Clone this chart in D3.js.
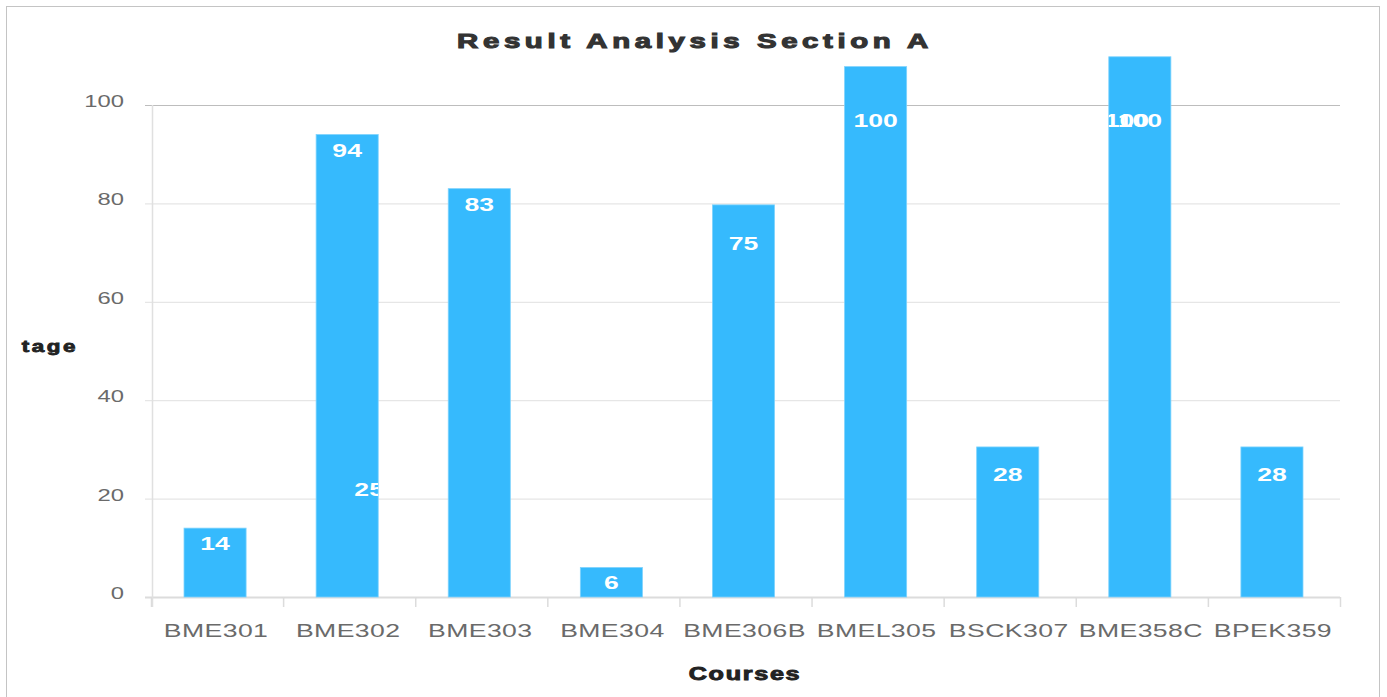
<!DOCTYPE html>
<html>
<head>
<meta charset="utf-8">
<script src="https://cdn.jsdelivr.net/npm/d3@7"></script>
<style>
  body { margin: 0; background: #fff; }
  svg { display: block; font-family: "Liberation Sans", Arial, sans-serif; }
</style>
</head>
<body>
<svg width="1387" height="697"></svg>
<script>
const courses = ['BME301','BME302','BME303','BME304','BME306B','BMEL305','BSCK307','BME358C','BPEK359']
const barValues = [14, 94, 83, 6, 79.7, 107.8, 30.5, 109.8, 30.5]
const labelValues = [14, 94, 83, 6, 75, 100, 28, 100, 28]
const extraLabels = [{course: 'BME302', value: 25}, {course: 'BME358C', value: 100}]
const yTicks = [0, 20, 40, 60, 80, 100]

const svg = d3.select('svg')
const stretch = 1.4   // the reference is stretched sideways

const x = d3.scaleBand().domain(courses).range([151, 1340]).padding(0)
const y = d3.scaleLinear().domain([0, 100]).range([597, 105])
const bw = x.step() * 0.47
const barX = c => x(c) + (x.step() - bw) / 2 - 2

svg.append('clipPath').attr('id', 'clip')
  .append('rect').attr('x', 20).attr('y', 0).attr('width', 1367).attr('height', 697)

// outer frame
svg.append('rect')
  .attr('x', 6.5).attr('y', 6.5).attr('width', 1373).attr('height', 710)
  .attr('fill', 'none').attr('stroke', '#c4c4c4')

function label(g, tx, ty, txt, opts) {
  return g.append('text')
    .attr('transform', `translate(${tx},${ty}) scale(${stretch},1)`)
    .attr('text-anchor', opts.anchor || 'middle')
    .attr('font-size', opts.size)
    .attr('font-weight', opts.weight || 'normal')
    .attr('letter-spacing', opts.spacing || 0)
    .attr('fill', opts.fill)
    .attr('stroke', opts.heavy ? opts.fill : 'none')
    .attr('stroke-width', opts.heavy || 0)
    .text(txt)
}

// title
label(svg, 695, 48, 'Result Analysis Section A', {size: 21, weight: 'bold', spacing: 3.3, fill: '#333', heavy: 1.1})

// grid
const $grid = svg.append('g')
$grid.selectAll('line').data(yTicks)
  .enter().append('line')
  .attr('x1', 145).attr('x2', 1340)
  .attr('y1', d => y(d) + 0.5).attr('y2', d => y(d) + 0.5)
  .attr('stroke', d => d == 100 ? '#bdbdbd' : d == 0 ? '#dcdcdc' : '#e6e6e6')
  .attr('stroke-width', d => d == 0 ? 2 : 1.2)

// y axis line
svg.append('line')
  .attr('x1', 152.5).attr('x2', 152.5).attr('y1', y(100)).attr('y2', 607)
  .attr('stroke', '#e0e0e0').attr('stroke-width', 1.5)

// x category ticks
svg.append('g').selectAll('line').data(courses.concat(['end']))
  .enter().append('line')
  .attr('x1', (d, i) => 151.5 + i * x.step()).attr('x2', (d, i) => 151.5 + i * x.step())
  .attr('y1', y(0)).attr('y2', 607)
  .attr('stroke', '#dcdcdc').attr('stroke-width', 1.5)

// y tick labels
const $ylab = svg.append('g')
yTicks.forEach(t => label($ylab, 124, y(t) + 2, t, {size: 17, anchor: 'end', fill: '#6a6a6a'}))

// x tick labels
const $xlab = svg.append('g')
courses.forEach(c => label($xlab, barX(c) + bw / 2 + 1, 637, c, {size: 19, fill: '#6a6a6a', spacing: 0.3}))

// axis titles
label(svg, 745, 680, 'Courses', {size: 18, weight: 'bold', spacing: 1.2, fill: '#222', heavy: 0.9})
svg.append('g').attr('clip-path', 'url(#clip)')
  .call(g => label(g, 78, 352, 'Percentage', {size: 16, weight: 'bold', spacing: 1.8, anchor: 'end', fill: '#222', heavy: 0.8}))

// bars
const $bars = svg.append('g')
$bars.selectAll('rect').data(courses)
  .enter().append('rect')
  .attr('x', c => barX(c))
  .attr('y', (c, i) => y(barValues[i]))
  .attr('width', bw)
  .attr('height', (c, i) => y(0) - y(barValues[i]))
  .attr('fill', '#36bafd')
  .attr('stroke', '#7fd3fd').attr('stroke-width', 0.8)

// value labels
const $vals = svg.append('g')
courses.forEach((c, i) =>
  label($vals, barX(c) + bw / 2, y(labelValues[i]) + 22, labelValues[i], {size: 19, weight: 'bold', fill: '#fff'}))

// stray labels left over in the reference, kept inside their bars
extraLabels.forEach((d, k) => {
  const shift = d.course == 'BME302' ? 22 : -13
  svg.append('clipPath').attr('id', 'bar' + k)
    .append('rect').attr('x', barX(d.course)).attr('y', 0).attr('width', bw).attr('height', 697)
  const g = $vals.append('g').attr('clip-path', `url(#bar${k})`)
  label(g, barX(d.course) + bw / 2 + shift, y(d.value) + 22, d.value, {size: 19, weight: 'bold', fill: '#fff'})
})
</script>
</body>
</html>
